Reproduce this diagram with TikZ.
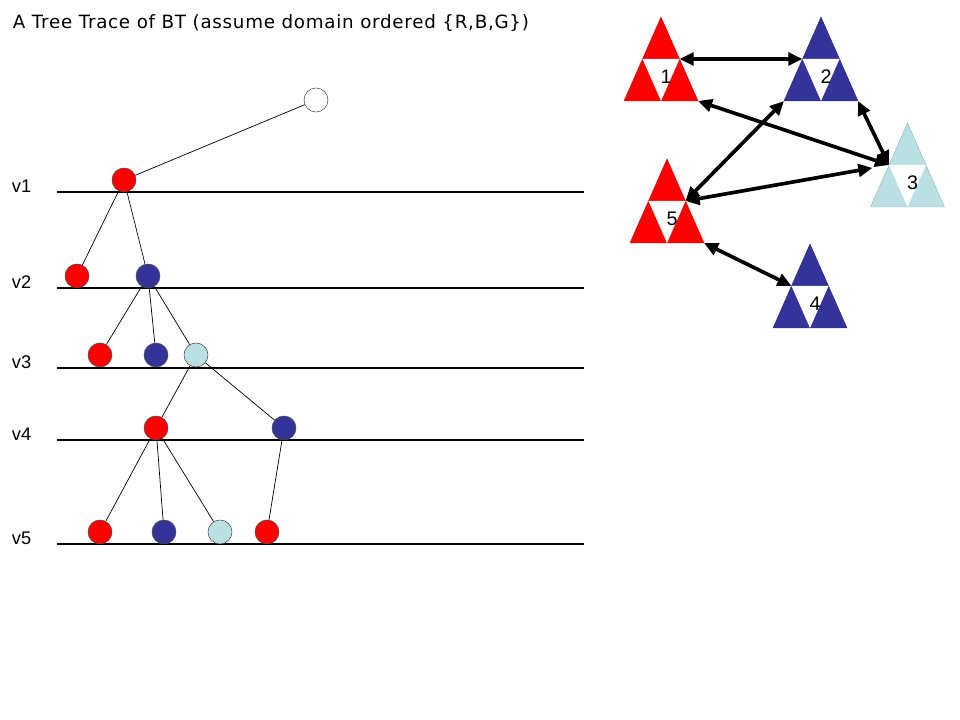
\documentclass[tikz,border=0pt]{standalone}
\usepackage{fontspec}
\setmainfont{Liberation Sans}
\newfontfamily\titlefont[LetterSpace=4]{DejaVu Sans}
\usetikzlibrary{arrows.meta}

\definecolor{valred}{RGB}{255,0,0}
\definecolor{valblue}{RGB}{51,51,153}
\definecolor{valgreen}{RGB}{187,224,227}

% one coloured triangle with white middle, plus named points on it
\newcommand{\colortri}[5]{%
  \fill[#4, draw=#4!80!black, line width=0.3pt] (#2,#3) -- (#2-37,#3+84) -- (#2+37,#3+84) -- cycle;
  \fill[white] (#2-18.5,#3+42) -- (#2+18.5,#3+42) -- (#2,#3+84) -- cycle;
  \coordinate (#1-top) at (#2,#3);
  \coordinate (#1-left) at (#2-37,#3+84);
  \coordinate (#1-right) at (#2+37,#3+84);
  \coordinate (#1-ml) at (#2-18.5,#3+42);
  \coordinate (#1-mr) at (#2+18.5,#3+42);
  \node[font=\fontsize{14}{16}\selectfont, inner sep=0pt] (#1) at (#2+5,#3+60) {#5};
}

\begin{document}
\begin{tikzpicture}[x=0.025cm, y=-0.025cm,
    val/.style={circle, draw=black!70, line width=0.4pt, minimum size=0.6cm, inner sep=0pt},
    branch/.style={line width=0.5pt},
    level/.style={line width=0.9pt},
    link/.style={line width=2.6pt, {Triangle[length=10pt,width=9pt]}-{Triangle[length=10pt,width=9pt]}}]
    \useasboundingbox (0,0) rectangle (960,720);

    % Title
    \node[anchor=west, font=\titlefont\fontsize{13}{15}\selectfont] (title) at (8,23) {A Tree Trace of BT (assume domain ordered \{R,B,G\})};

    % Levels
    \foreach \y/\lab in {192/v1, 288/v2, 368/v3, 440/v4, 544/v5} {
        \draw[level] (57,\y) -- (584,\y);
        \node[anchor=west, font=\fontsize{13}{15}\selectfont] at (7,\y-6) {\lab};
    }

    % Tree nodes
    \node[val, fill=white] (root) at (316,100) {};
    \node[val, fill=valred] (v1r) at (124,180) {};
    \node[val, fill=valred] (v2r) at (77,276) {};
    \node[val, fill=valblue] (v2b) at (148,276) {};
    \node[val, fill=valred] (v3r) at (100,355) {};
    \node[val, fill=valblue] (v3b) at (156,355) {};
    \node[val, fill=valgreen] (v3g) at (196,355) {};
    \node[val, fill=valred] (v4r) at (156,428) {};
    \node[val, fill=valblue] (v4b) at (284,428) {};
    \node[val, fill=valred] (v5r) at (100,532) {};
    \node[val, fill=valblue] (v5b) at (164,532) {};
    \node[val, fill=valgreen] (v5g) at (220,532) {};
    \node[val, fill=valred] (v5s) at (267,532) {};

    % Tree edges
    \draw[branch] (root) -- (v1r);
    \draw[branch] (v1r) -- (v2r);
    \draw[branch] (v1r) -- (v2b);
    \draw[branch] (v2b) -- (v3r);
    \draw[branch] (v2b) -- (v3b);
    \draw[branch] (v2b) -- (v3g);
    \draw[branch] (v3g) -- (v4r);
    \draw[branch] (v3g) -- (v4b);
    \draw[branch] (v4r) -- (v5r);
    \draw[branch] (v4r) -- (v5b);
    \draw[branch] (v4r) -- (v5g);
    \draw[branch] (v4b) -- (v5s);

    % Constraint graph
    \colortri{t1}{661}{17}{valred}{1}
    \colortri{t2}{821}{17}{valblue}{2}
    \colortri{t3}{907.5}{123}{valgreen}{3}
    \colortri{t4}{810}{244}{valblue}{4}
    \colortri{t5}{667}{159}{valred}{5}

    \draw[link] (t1-mr) -- (t2-ml);
    \draw[link] (t1-right) -- (t3-ml);
    \draw[link] (t2-left) -- (t5-mr);
    \draw[link] (t2-right) -- (t3-ml);
    \draw[link, shorten >=12pt] (t5-mr) -- (t3-ml);
    \draw[link] (t5-right) -- (t4-ml);
\end{tikzpicture}
\end{document}
